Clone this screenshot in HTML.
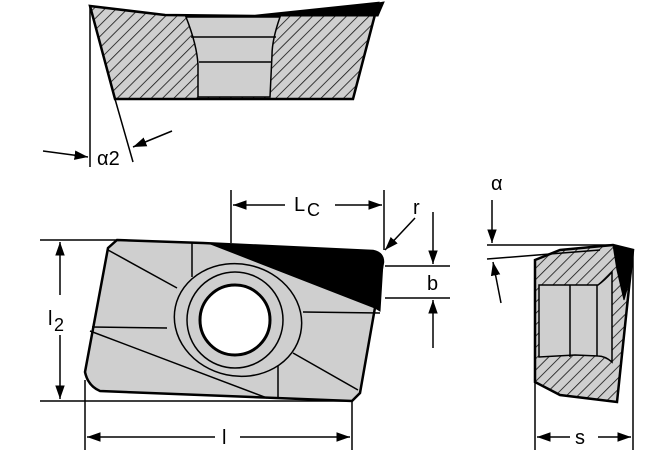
<!DOCTYPE html>
<html><head><meta charset="utf-8"><style>html,body{margin:0;padding:0;background:#fff}svg{display:block}text{font-family:"Liberation Sans",sans-serif;fill:#000}</style></head><body>
<svg width="670" height="460" viewBox="0 0 670 460" xmlns="http://www.w3.org/2000/svg">
<defs>
<pattern id="h" patternUnits="userSpaceOnUse" width="8" height="8" patternTransform="rotate(45)">
<rect width="8" height="8" fill="#cfcfcf"/><line x1="0" y1="0" x2="0" y2="8" stroke="#111" stroke-width="1.6"/></pattern>
<marker id="a" viewBox="0 0 10 10" refX="10" refY="5" markerWidth="9" markerHeight="9" orient="auto"><path d="M0,1.5 L10,5 L0,8.5z" fill="#000"/></marker>
</defs>
<g stroke="#000" fill="none">
<!-- top section view -->
<path d="M90,6 L165,15 L255,16 L378,3 L353,99 L115,99 Z" fill="url(#h)" stroke-width="2.5"/>
<path d="M186,17 L280,17 Q272,40 272,55 L270,97 L198,97 L198,65 Q197,45 186,17 Z" fill="#cfcfcf" stroke-width="1.5"/>
<line x1="191" y1="37" x2="276" y2="37" stroke-width="1.5"/>
<line x1="199" y1="62" x2="271" y2="62" stroke-width="1.5"/>
<path d="M255,16 L378,3 L384,2 L378,16 Z" fill="#000" stroke-width="1"/>
<line x1="90" y1="6" x2="90" y2="167" stroke-width="1.5"/>
<line x1="115" y1="99" x2="133" y2="162" stroke-width="1.5"/>
<line x1="43" y1="151" x2="88" y2="157" stroke-width="1.5" marker-end="url(#a)"/>
<line x1="172" y1="131" x2="133" y2="147" stroke-width="1.5" marker-end="url(#a)"/>
<!-- main view -->
<path d="M117,240 L203,243 L373,251 Q383,253 383,262 L360,393 L352,401 L100,391 Q88,386 85,372 L108,248 Z" fill="#cfcfcf" stroke-width="2.5"/>
<path d="M208,243 L373,251 Q383,253 383,262 L380,311 L375,308 Z" fill="#000" stroke-width="1"/>
<g stroke-width="1.5">
<line x1="192" y1="243" x2="192" y2="277"/>
<line x1="108" y1="250" x2="177" y2="288"/>
<line x1="92" y1="327" x2="167" y2="328"/>
<line x1="90" y1="331" x2="267" y2="398"/>
<line x1="278" y1="365" x2="278" y2="397"/>
<line x1="293" y1="353" x2="358" y2="390"/>
<line x1="303" y1="312" x2="380" y2="313"/>
<ellipse cx="238" cy="320" rx="64" ry="56" transform="rotate(12 238 320)" fill="#cfcfcf"/>
<circle cx="235" cy="320" r="48" fill="#cfcfcf"/>
</g>
<circle cx="235" cy="320" r="35" fill="#fff" stroke-width="3"/>
<!-- dims main -->
<g stroke-width="1.5">
<line x1="40" y1="240" x2="118" y2="240"/>
<line x1="40" y1="401" x2="352" y2="401"/>
<line x1="60" y1="295" x2="60" y2="242" marker-end="url(#a)"/>
<line x1="60" y1="335" x2="60" y2="399" marker-end="url(#a)"/>
<line x1="231" y1="190" x2="231" y2="243"/>
<line x1="384" y1="190" x2="384" y2="250"/>
<line x1="285" y1="205" x2="233" y2="205" marker-end="url(#a)"/>
<line x1="335" y1="205" x2="382" y2="205" marker-end="url(#a)"/>
<line x1="415" y1="218" x2="385" y2="250" marker-end="url(#a)"/>
<line x1="385" y1="266" x2="450" y2="266"/>
<line x1="385" y1="298" x2="450" y2="298"/>
<line x1="433" y1="212" x2="433" y2="264" marker-end="url(#a)"/>
<line x1="433" y1="348" x2="433" y2="300" marker-end="url(#a)"/>
<line x1="85" y1="380" x2="85" y2="450"/>
<line x1="352" y1="401" x2="352" y2="450"/>
<line x1="215" y1="437" x2="87" y2="437" marker-end="url(#a)"/>
<line x1="240" y1="437" x2="350" y2="437" marker-end="url(#a)"/>
</g>
<!-- side view -->
<path d="M535,260 L560,250 L613,245 L633,250 L617,402 L560,395 L535,382 Z" fill="url(#h)" stroke-width="2.5"/>
<path d="M539,285 L598,285 Q605,280 612,272 L612,362 Q605,356 598,356 L575,355 L539,357 Z" fill="#cfcfcf" stroke-width="1.5"/>
<line x1="570" y1="285" x2="570" y2="357" stroke-width="1.5"/>
<line x1="597" y1="285" x2="597" y2="356" stroke-width="1.5"/>
<path d="M613,245 L633,250 L631,275 L624,300 L617,270 Z" fill="#000" stroke-width="1"/>
<g stroke-width="1.5">
<line x1="487" y1="245" x2="612" y2="245"/>
<line x1="487" y1="259" x2="600" y2="250"/>
<line x1="492" y1="200" x2="492" y2="243" marker-end="url(#a)"/>
<line x1="501" y1="303" x2="493" y2="262" marker-end="url(#a)"/>
<line x1="535" y1="380" x2="535" y2="450"/>
<line x1="633" y1="250" x2="633" y2="450"/>
<line x1="570" y1="437" x2="537" y2="437" marker-end="url(#a)"/>
<line x1="598" y1="437" x2="631" y2="437" marker-end="url(#a)"/>
</g>
</g>
<g font-size="20">
<text x="97" y="165">α2</text>
<text x="48" y="325">l</text><text x="54" y="331" font-size="18">2</text>
<text x="294" y="211">L</text><text x="307" y="216" font-size="18">C</text>
<text x="413" y="214">r</text>
<text x="427" y="290">b</text>
<text x="222" y="444">l</text>
<text x="575" y="444">s</text>
<text x="491" y="190">α</text>
</g>
</svg>
</body></html>
